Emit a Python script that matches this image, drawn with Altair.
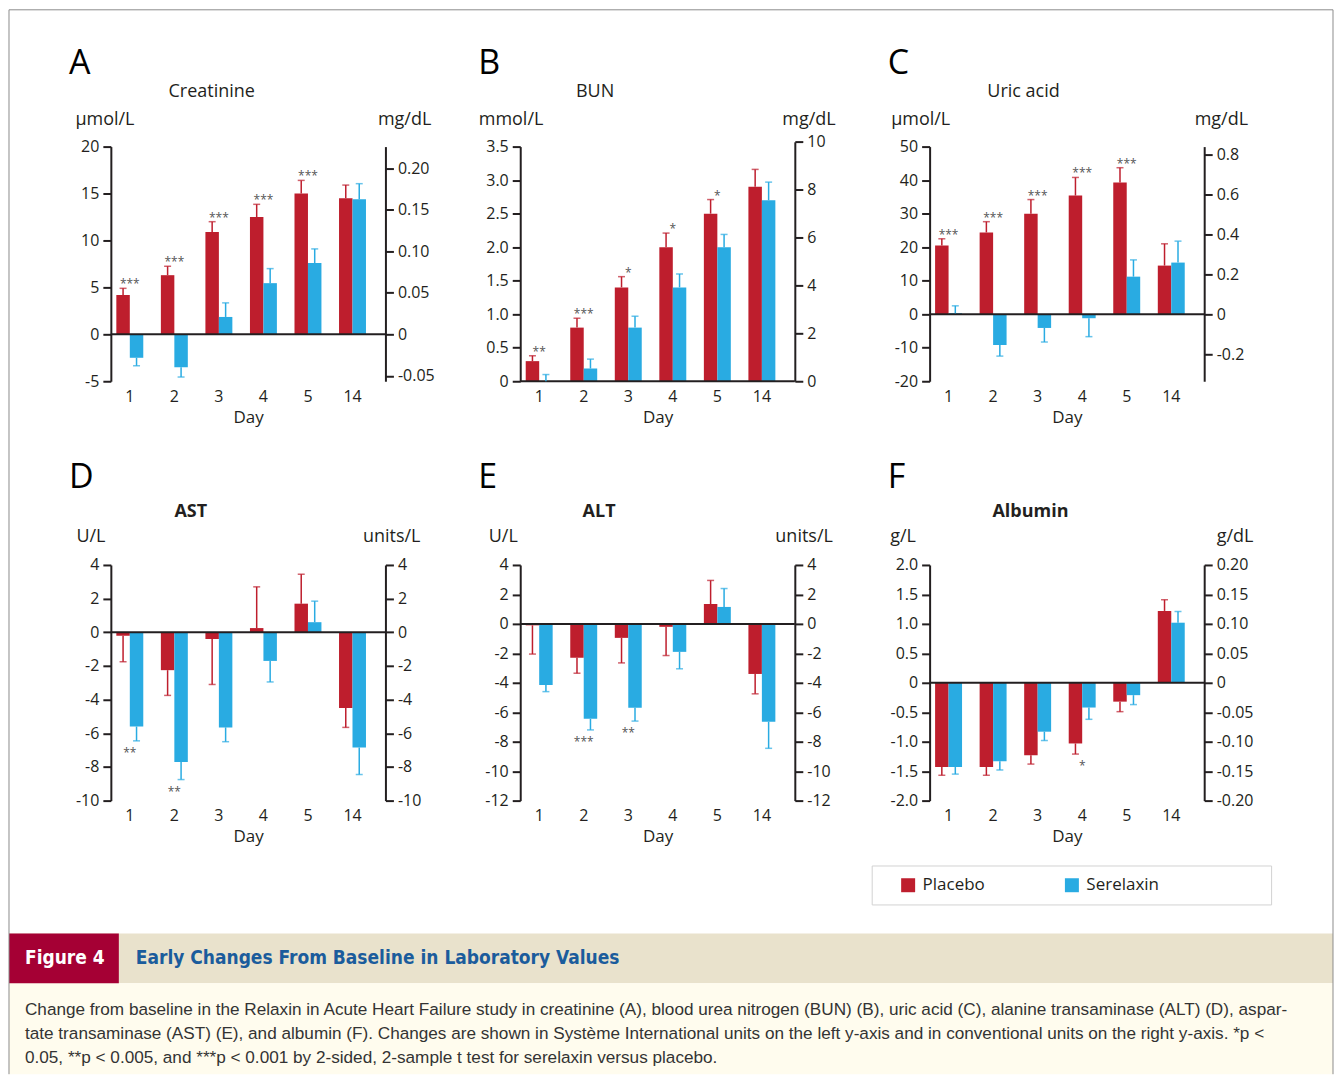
import altair as alt
import pandas as pd

# ---------------- data ----------------
days = ["1", "2", "3", "4", "5", "14"]
series_names = ["Placebo", "Serelaxin"]

# A  Creatinine (µmol/L)
creat_placebo = [4.2, 6.3, 10.9, 12.5, 15.0, 14.5]
creat_placebo_err = [0.7, 0.95, 1.1, 1.35, 1.4, 1.4]
creat_serelaxin = [-2.5, -3.5, 1.85, 5.45, 7.6, 14.4]
creat_serelaxin_err = [0.85, 1.05, 1.5, 1.55, 1.5, 1.65]
creat_sig = ["***", "***", "***", "***", "***", ""]

# B  BUN (mmol/L)
bun_placebo = [0.3, 0.8, 1.4, 2.0, 2.5, 2.9]
bun_placebo_err = [0.08, 0.14, 0.16, 0.21, 0.21, 0.26]
bun_serelaxin = [0.0, 0.19, 0.8, 1.4, 2.0, 2.7]
bun_serelaxin_err = [0.1, 0.14, 0.17, 0.2, 0.19, 0.27]
bun_sig = ["**", "***", "*", "*", "*", ""]

# C  Uric acid (µmol/L)
uric_placebo = [20.5, 24.4, 30.0, 35.4, 39.3, 14.5]
uric_placebo_err = [2.0, 3.2, 4.2, 5.4, 4.4, 6.5]
uric_serelaxin = [0.3, -9.2, -4.1, -1.2, 11.2, 15.4]
uric_serelaxin_err = [2.2, 3.3, 4.2, 5.5, 5.0, 6.4]
uric_sig = ["***", "***", "***", "***", "***", ""]

# D  AST (U/L)
ast_placebo = [-0.2, -2.25, -0.4, 0.25, 1.7, -4.5]
ast_placebo_err = [1.55, 1.5, 2.7, 2.45, 1.75, 1.15]
ast_serelaxin = [-5.6, -7.7, -5.65, -1.7, 0.6, -6.85]
ast_serelaxin_err = [0.85, 1.05, 0.85, 1.25, 1.25, 1.6]
ast_sig = ["**", "**", "", "", "", ""]

# E  ALT (U/L)
alt_placebo = [-0.1, -2.3, -0.95, -0.2, 1.35, -3.4]
alt_placebo_err = [1.95, 1.05, 1.7, 1.95, 1.6, 1.35]
alt_serelaxin = [-4.15, -6.45, -5.7, -1.9, 1.15, -6.65]
alt_serelaxin_err = [0.45, 0.75, 0.9, 1.15, 1.25, 1.8]
alt_sig = ["", "***", "**", "", "", ""]

# F  Albumin (g/L)
alb_placebo = [-1.43, -1.43, -1.23, -1.03, -0.32, 1.22]
alb_placebo_err = [0.14, 0.14, 0.15, 0.18, 0.17, 0.19]
alb_serelaxin = [-1.43, -1.33, -0.83, -0.42, -0.21, 1.02]
alb_serelaxin_err = [0.12, 0.15, 0.15, 0.2, 0.16, 0.19]
alb_sig = ["", "", "", "*", "", ""]

# axis tick values
creat_left_ticks = [-5, 0, 5, 10, 15, 20]
creat_right_ticks = [-0.05, 0, 0.05, 0.10, 0.15, 0.20]
bun_left_ticks = [0, 0.5, 1.0, 1.5, 2.0, 2.5, 3.0, 3.5]
bun_right_ticks = [0, 2, 4, 6, 8, 10]
uric_left_ticks = [-20, -10, 0, 10, 20, 30, 40, 50]
uric_right_ticks = [-0.2, 0, 0.2, 0.4, 0.6, 0.8]
ast_ticks = [-10, -8, -6, -4, -2, 0, 2, 4]
alt_ticks = [-12, -10, -8, -6, -4, -2, 0, 2, 4]
alb_left_ticks = [-2.0, -1.5, -1.0, -0.5, 0, 0.5, 1.0, 1.5, 2.0]
alb_right_ticks = [-0.20, -0.15, -0.10, -0.05, 0, 0.05, 0.10, 0.15, 0.20]

caption_lines = [
    "Change from baseline in the Relaxin in Acute Heart Failure study in creatinine (A), blood urea nitrogen (BUN) (B), uric acid (C), alanine transaminase (ALT) (D), aspar-",
    "tate transaminase (AST) (E), and albumin (F). Changes are shown in Système International units on the left y-axis and in conventional units on the right y-axis. *p <",
    "0.05, **p < 0.005, and ***p < 0.001 by 2-sided, 2-sample t test for serelaxin versus placebo.",
]

# ---------------- styling ----------------
RED = "#be1e2d"
BLUE = "#29abe2"
INK = "#231f20"
FONT = "Open Sans"
W = 275

panels = [
    dict(letter="A", name="Creatinine", bold=False, row=1,
         pv=creat_placebo, pe=creat_placebo_err, sv=creat_serelaxin, se=creat_serelaxin_err, sig=creat_sig,
         dom=[-5, 20], lt=creat_left_ticks, lf="d", rt=creat_right_ticks, rf=".2f",
         rdom=[-5 / 88.4, 20 / 88.4], to_left=88.4,
         ul="µmol/L", ur="mg/dL", ulx=-36, urx=-8, tx=101),
    dict(letter="B", name="BUN", bold=False, row=1,
         pv=bun_placebo, pe=bun_placebo_err, sv=bun_serelaxin, se=bun_serelaxin_err, sig=bun_sig,
         dom=[0, 3.5], lt=bun_left_ticks, lf=".1f", rt=bun_right_ticks, rf="d",
         rdom=[0, 10], to_left=1 / 2.8,
         ul="mmol/L", ur="mg/dL", ulx=-42, urx=-13, tx=75),
    dict(letter="C", name="Uric acid", bold=False, row=1,
         pv=uric_placebo, pe=uric_placebo_err, sv=uric_serelaxin, se=uric_serelaxin_err, sig=uric_sig,
         dom=[-20, 50], lt=uric_left_ticks, lf="d", rt=uric_right_ticks, rf=".1f",
         rdom=[-20 / 59.48, 50 / 59.48], to_left=59.48,
         ul="µmol/L", ur="mg/dL", ulx=-39, urx=-10, tx=94),
    dict(letter="D", name="AST", bold=True, row=2,
         pv=ast_placebo, pe=ast_placebo_err, sv=ast_serelaxin, se=ast_serelaxin_err, sig=ast_sig,
         dom=[-10, 4], lt=ast_ticks, lf="d", rt=ast_ticks, rf="d",
         rdom=[-10, 4], to_left=1.0,
         ul="U/L", ur="units/L", ulx=-35, urx=-23, tx=80),
    dict(letter="E", name="ALT", bold=True, row=2,
         pv=alt_placebo, pe=alt_placebo_err, sv=alt_serelaxin, se=alt_serelaxin_err, sig=alt_sig,
         dom=[-12, 4], lt=alt_ticks, lf="d", rt=alt_ticks, rf="d",
         rdom=[-12, 4], to_left=1.0,
         ul="U/L", ur="units/L", ulx=-32, urx=-20, tx=79),
    dict(letter="F", name="Albumin", bold=True, row=2,
         pv=alb_placebo, pe=alb_placebo_err, sv=alb_serelaxin, se=alb_serelaxin_err, sig=alb_sig,
         dom=[-2, 2], lt=alb_left_ticks, lf=".1f", rt=alb_right_ticks, rf=".2f",
         rdom=[-0.2, 0.2], to_left=10.0,
         ul="g/L", ur="g/dL", ulx=-40, urx=12, tx=101),
]


def label_expr(fmt):
    return "datum.value == 0 ? '0' : replace(format(datum.value, '%s'), '\u2212', '-')" % fmt


# third (blank) legend entry only widens the legend box to the reference's size
legend_domain = series_names + [" "]
color_scale = alt.Scale(domain=legend_domain, range=[RED, BLUE, "rgba(0,0,0,0)"])
x_scale = alt.Scale(paddingInner=0.395, paddingOuter=0.28, align=0.22)
xoff = alt.XOffset("series:N", sort=series_names, scale=alt.Scale(paddingInner=0, paddingOuter=0))
x_axis = alt.Axis(domain=False, ticks=False, labelAngle=0, labelPadding=7,
                  title="Day", titlePadding=5, labelFontSize=16, titleFontSize=17)


def caption_layers():
    """Figure caption block (decoration) drawn relative to panel D's plot origin."""
    one = pd.DataFrame({"k": [0]})
    cb = alt.Chart(one)
    LEFT, RIGHT, TOP = -102, 1224, -556
    HT, HB, BOT = 369, 419, 510
    cond = "Liberation Sans Narrow, DejaVu Sans Condensed, Liberation Sans"
    return [
        cb.mark_rect(color="#e9e2cc").encode(
            x=alt.value(LEFT), x2=alt.value(RIGHT), y=alt.value(HT), y2=alt.value(HB)),
        cb.mark_rect(color="#fffcee").encode(
            x=alt.value(LEFT), x2=alt.value(RIGHT), y=alt.value(HB), y2=alt.value(BOT)),
        cb.mark_rect(color="#a50034").encode(
            x=alt.value(LEFT), x2=alt.value(8), y=alt.value(HT), y2=alt.value(HB)),
        cb.mark_text(text="Figure 4", align="left", baseline="middle", fontSize=19,
                     fontWeight="bold", color="white", font=cond).encode(
            x=alt.value(-86), y=alt.value(394)),
        cb.mark_text(text="Early Changes From Baseline in Laboratory Values", align="left",
                     baseline="middle", fontSize=19, fontWeight="bold", color="#1b5c9c",
                     font=cond).encode(x=alt.value(25), y=alt.value(394)),
        cb.mark_text(text=caption_lines, align="left", baseline="top", lineHeight=24,
                     fontSize=17.2, color="#333333", font="Liberation Sans").encode(
            x=alt.value(-86), y=alt.value(437)),
        cb.mark_rule(color="#8c8c8c", strokeWidth=1).encode(
            x=alt.value(LEFT), y=alt.value(TOP), y2=alt.value(BOT)),
        cb.mark_rule(color="#8c8c8c", strokeWidth=1).encode(
            x=alt.value(RIGHT), y=alt.value(TOP), y2=alt.value(BOT)),
        cb.mark_rule(color="#8c8c8c", strokeWidth=1).encode(
            y=alt.value(TOP), x=alt.value(LEFT), x2=alt.value(RIGHT)),
    ]


def make_panel(p, with_legend=False, with_caption=False):
    h = 235 if p["row"] == 1 else 236
    rows = []
    for i, d in enumerate(days):
        for s, vals, errs in (("Placebo", p["pv"], p["pe"]), ("Serelaxin", p["sv"], p["se"])):
            v = vals[i]
            e = errs[i]
            sign = 1 if v >= 0 else -1
            rows.append(dict(day=d, series=s, val=v, end=v + sign * e))
    df = pd.DataFrame(rows)

    up, down = [], []
    for i, d in enumerate(days):
        if not p["sig"][i]:
            continue
        ends = df[df.day == d]["end"].tolist()
        anchor = max(ends, key=abs)
        (up if anchor >= 0 else down).append(dict(day=d, anchor=anchor, stars=p["sig"][i]))
    up_df = pd.DataFrame(up, columns=["day", "anchor", "stars"])
    down_df = pd.DataFrame(down, columns=["day", "anchor", "stars"])

    unit_y = -27 if p["row"] == 1 else -28
    y_scale = alt.Scale(domain=p["dom"], nice=False, zero=False)
    left_axis = alt.Axis(values=p["lt"], labelExpr=label_expr(p["lf"]), title=p["ul"],
                         titleAngle=0, titleAlign="left", titleBaseline="middle",
                         titleX=p["ulx"], titleY=unit_y)

    if with_legend:
        legend = alt.Legend(orient="none", legendX=-58, legendY=301, direction="horizontal",
                            title=" ", titleOrient="left", titlePadding=17, titleFontSize=17,
                            padding=11, strokeColor="#d2d2d2", fillColor="white",
                            symbolType="square", symbolSize=196, symbolStrokeWidth=0,
                            symbolOpacity=1,
                            labelFont=FONT, labelFontSize=17, labelColor=INK, labelOffset=6,
                            columnPadding=78, labelLimit=400)
    else:
        legend = None

    X = alt.X("day:N", sort=days, scale=x_scale, axis=x_axis)
    col = alt.Color("series:N", scale=color_scale, legend=legend)
    Y = lambda f: alt.Y(f, scale=y_scale, axis=left_axis)

    bars = alt.Chart(df).mark_bar().encode(x=X, xOffset=xoff, y=Y("val:Q"), color=col)
    rules = alt.Chart(df).mark_rule(strokeWidth=1.5).encode(
        x=X, xOffset=xoff, y=Y("val:Q"), y2="end:Q", color=col)
    caps = alt.Chart(df).mark_tick(thickness=1.5, size=7).encode(
        x=X, xOffset=xoff, y=Y("end:Q"), color=col)
    zero = alt.Chart(pd.DataFrame({"z": [0]})).mark_rule(color=INK, strokeWidth=2).encode(y=Y("z:Q"))
    stars_up = alt.Chart(up_df).mark_text(baseline="alphabetic", fontSize=12, color="#555555",
                                          font=FONT, dy=0).encode(
        x=X, y=Y("anchor:Q"), text="stars:N")
    stars_down = alt.Chart(down_df).mark_text(baseline="alphabetic", fontSize=12, color="#555555",
                                              font=FONT, dy=16).encode(
        x=X, y=Y("anchor:Q"), text="stars:N")

    one = pd.DataFrame({"k": [0]})
    letter = alt.Chart(one).mark_text(text=p["letter"], align="left", baseline="middle",
                                      fontSize=34, font=FONT, color="black").encode(
        x=alt.value(-42), y=alt.value(-83 if p["row"] == 1 else -87))
    title = alt.Chart(one).mark_text(text=p["name"], align="center", baseline="middle",
                                     fontSize=18, font=FONT, color=INK,
                                     fontWeight="bold" if p["bold"] else "normal").encode(
        x=alt.value(p["tx"]), y=alt.value(-55 if p["row"] == 1 else -53))

    inner = alt.layer(bars, zero, rules, caps, stars_up, stars_down, letter, title)

    lo, hi = p["dom"]
    px = lambda r: h - (r * p["to_left"] - lo) / (hi - lo) * h
    right_axis = alt.Axis(orient="right", values=p["rt"], labelExpr=label_expr(p["rf"]),
                          title=p["ur"], titleAngle=0, titleAlign="left", titleBaseline="middle",
                          titleX=p["urx"], titleY=unit_y)
    right = alt.Chart(pd.DataFrame({"r": p["rdom"]})).mark_point(opacity=0).encode(
        y=alt.Y("r:Q", scale=alt.Scale(domain=p["rdom"], range=[px(p["rdom"][0]), px(p["rdom"][1])],
                                       nice=False, zero=False), axis=right_axis)
    )
    extra = caption_layers() if with_caption else []
    return alt.layer(inner, right, *extra).resolve_scale(y="independent").properties(width=W, height=h)


charts = [make_panel(p, with_legend=(p["letter"] == "F"), with_caption=(p["letter"] == "D"))
          for p in panels]

chart = alt.concat(*charts, columns=3, spacing={"row": 184, "column": 135},
                   bounds="flush").resolve_legend(color="independent").properties(
    padding=0
).configure(font=FONT).configure_view(stroke=None).configure_axis(
    grid=False, domainColor=INK, domainWidth=2, tickColor=INK, tickWidth=2, tickSize=8,
    labelFont=FONT, labelFontSize=16, labelColor=INK, labelPadding=4,
    titleFont=FONT, titleFontSize=18, titleColor=INK, titleFontWeight="normal",
)

chart.save("out.html", embed_options={"renderer": "svg", "actions": False})
